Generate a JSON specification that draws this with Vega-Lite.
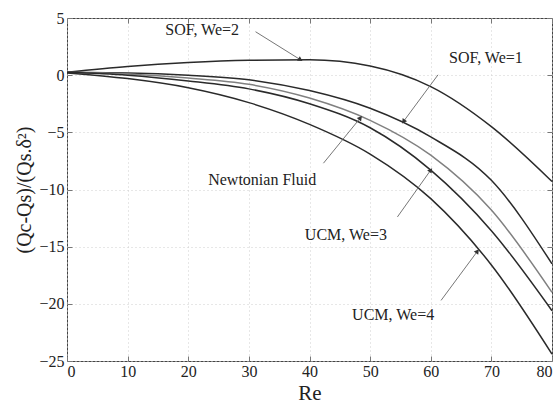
{
  "$schema": "https://vega.github.io/schema/vega-lite/v6.json",
  "width": 485,
  "height": 343,
  "autosize": "none",
  "padding": {"left": 67, "top": 18, "right": 8, "bottom": 47},
  "background": "white",
  "config": {
    "view": {"stroke": "#444", "strokeWidth": 1},
    "font": "Liberation Serif",
    "axis": {
      "labelFont": "Liberation Serif",
      "titleFont": "Liberation Serif",
      "labelColor": "#222",
      "titleColor": "#222",
      "labelFontSize": 16,
      "domain": false,
      "tickColor": "#777",
      "gridColor": "#cfcfcf",
      "gridDash": [1, 3],
      "gridWidth": 1
    }
  },
  "datasets": {
    "curves": [
      {"Re": 0, "v": 0.25, "curve": "SOF, We=2"},
      {"Re": 10, "v": 0.75, "curve": "SOF, We=2"},
      {"Re": 20, "v": 1.1, "curve": "SOF, We=2"},
      {"Re": 30, "v": 1.3, "curve": "SOF, We=2"},
      {"Re": 40, "v": 1.35, "curve": "SOF, We=2"},
      {"Re": 50, "v": 0.8, "curve": "SOF, We=2"},
      {"Re": 60, "v": -1.0, "curve": "SOF, We=2"},
      {"Re": 70, "v": -4.5, "curve": "SOF, We=2"},
      {"Re": 80, "v": -9.3, "curve": "SOF, We=2"},
      {"Re": 0, "v": 0.25, "curve": "SOF, We=1"},
      {"Re": 10, "v": 0.2, "curve": "SOF, We=1"},
      {"Re": 20, "v": 0.0, "curve": "SOF, We=1"},
      {"Re": 30, "v": -0.4, "curve": "SOF, We=1"},
      {"Re": 40, "v": -1.35, "curve": "SOF, We=1"},
      {"Re": 50, "v": -2.9, "curve": "SOF, We=1"},
      {"Re": 60, "v": -5.4, "curve": "SOF, We=1"},
      {"Re": 70, "v": -9.2, "curve": "SOF, We=1"},
      {"Re": 80, "v": -16.5, "curve": "SOF, We=1"},
      {"Re": 0, "v": 0.25, "curve": "Newtonian Fluid"},
      {"Re": 10, "v": 0.1, "curve": "Newtonian Fluid"},
      {"Re": 20, "v": -0.25, "curve": "Newtonian Fluid"},
      {"Re": 30, "v": -0.8, "curve": "Newtonian Fluid"},
      {"Re": 40, "v": -2.0, "curve": "Newtonian Fluid"},
      {"Re": 50, "v": -3.95, "curve": "Newtonian Fluid"},
      {"Re": 60, "v": -7.0, "curve": "Newtonian Fluid"},
      {"Re": 70, "v": -11.8, "curve": "Newtonian Fluid"},
      {"Re": 80, "v": -19.0, "curve": "Newtonian Fluid"},
      {"Re": 0, "v": 0.25, "curve": "UCM, We=3"},
      {"Re": 10, "v": 0.0, "curve": "UCM, We=3"},
      {"Re": 20, "v": -0.5, "curve": "UCM, We=3"},
      {"Re": 30, "v": -1.2, "curve": "UCM, We=3"},
      {"Re": 40, "v": -2.5, "curve": "UCM, We=3"},
      {"Re": 50, "v": -4.6, "curve": "UCM, We=3"},
      {"Re": 60, "v": -8.3, "curve": "UCM, We=3"},
      {"Re": 70, "v": -13.6, "curve": "UCM, We=3"},
      {"Re": 80, "v": -20.6, "curve": "UCM, We=3"},
      {"Re": 0, "v": 0.2, "curve": "UCM, We=4"},
      {"Re": 10, "v": -0.3, "curve": "UCM, We=4"},
      {"Re": 20, "v": -1.1, "curve": "UCM, We=4"},
      {"Re": 30, "v": -2.4, "curve": "UCM, We=4"},
      {"Re": 40, "v": -4.3, "curve": "UCM, We=4"},
      {"Re": 50, "v": -6.9, "curve": "UCM, We=4"},
      {"Re": 60, "v": -10.8, "curve": "UCM, We=4"},
      {"Re": 70, "v": -16.6, "curve": "UCM, We=4"},
      {"Re": 80, "v": -24.4, "curve": "UCM, We=4"}
    ],
    "labels": [
      {"x": 22.3, "y": 3.97, "text": "SOF, We=2"},
      {"x": 69.1, "y": 1.52, "text": "SOF, We=1"},
      {"x": 32.2, "y": -9.2, "text": "Newtonian Fluid"},
      {"x": 46.0, "y": -14.0, "text": "UCM, We=3"},
      {"x": 53.8, "y": -21.0, "text": "UCM, We=4"}
    ],
    "arrows": [
      {"x": 31.1, "y": 3.8, "x2": 38.5, "y2": 1.35},
      {"x": 61.2, "y": 0.03, "x2": 55.5, "y2": -4.05},
      {"x": 42.3, "y": -7.7, "x2": 48.4, "y2": -3.73},
      {"x": 54.5, "y": -12.4, "x2": 60.0, "y2": -8.3},
      {"x": 61.7, "y": -19.7, "x2": 67.7, "y2": -15.4}
    ]
  },
  "resolve": {"axis": {"x": "independent", "y": "independent"}},
  "layer": [
    {
      "data": {"name": "curves"},
      "mark": {"type": "line", "interpolate": "monotone", "strokeWidth": 1.5},
      "encoding": {
        "x": {
          "field": "Re", "type": "quantitative",
          "scale": {"domain": [0, 80], "nice": false, "zero": false},
          "axis": {"orient": "bottom", "values": [0, 10, 20, 30, 40, 50, 60, 70, 80], "title": "Re", "titleFontSize": 21, "titleFontWeight": "normal", "titlePadding": 3, "tickSize": -5, "labelPadding": 7, "grid": true}
        },
        "y": {
          "field": "v", "type": "quantitative",
          "scale": {"domain": [-25, 5], "nice": false, "zero": false},
          "axis": {"orient": "left", "values": [-25, -20, -15, -10, -5, 0, 5], "title": "(Qc-Qs)/(Qs.δ²)", "titleFontSize": 20, "titleFontWeight": "normal", "titlePadding": 4, "tickSize": -5, "labelPadding": 8, "grid": true}
        },
        "color": {
          "field": "curve", "type": "nominal", "legend": null,
          "scale": {"domain": ["SOF, We=2", "SOF, We=1", "Newtonian Fluid", "UCM, We=3", "UCM, We=4"], "range": ["#2a2a2a", "#2a2a2a", "#808080", "#2a2a2a", "#2a2a2a"]}
        },
        "detail": {"field": "curve"}
      }
    },
    {
      "data": {"name": "arrows"},
      "mark": {"type": "rule", "color": "#666", "strokeWidth": 0.9},
      "encoding": {
        "x": {"field": "x", "type": "quantitative", "axis": {"orient": "top", "values": [0, 10, 20, 30, 40, 50, 60, 70, 80], "labels": false, "title": null, "tickSize": -5, "grid": false}},
        "y": {"field": "y", "type": "quantitative", "axis": {"orient": "right", "values": [-25, -20, -15, -10, -5, 0, 5], "labels": false, "title": null, "tickSize": -5, "grid": false}},
        "x2": {"field": "x2"},
        "y2": {"field": "y2"}
      }
    },
    {
      "data": {"name": "arrows"},
      "transform": [
        {"calculate": "atan2((datum.x2 - datum.x) * 6.06, (datum.y2 - datum.y) * 11.42) * 180 / PI", "as": "ang"}
      ],
      "mark": {"type": "point", "shape": "triangle-up", "filled": true, "color": "#333", "size": 30, "opacity": 1},
      "encoding": {
        "x": {"field": "x2", "type": "quantitative", "axis": null},
        "y": {"field": "y2", "type": "quantitative", "axis": null},
        "angle": {"field": "ang", "type": "quantitative", "scale": null}
      }
    },
    {
      "data": {"name": "labels"},
      "mark": {"type": "text", "font": "Liberation Serif", "fontSize": 16, "color": "#222", "align": "center", "baseline": "middle"},
      "encoding": {
        "x": {"field": "x", "type": "quantitative", "axis": null},
        "y": {"field": "y", "type": "quantitative", "axis": null},
        "text": {"field": "text"}
      }
    }
  ]
}
